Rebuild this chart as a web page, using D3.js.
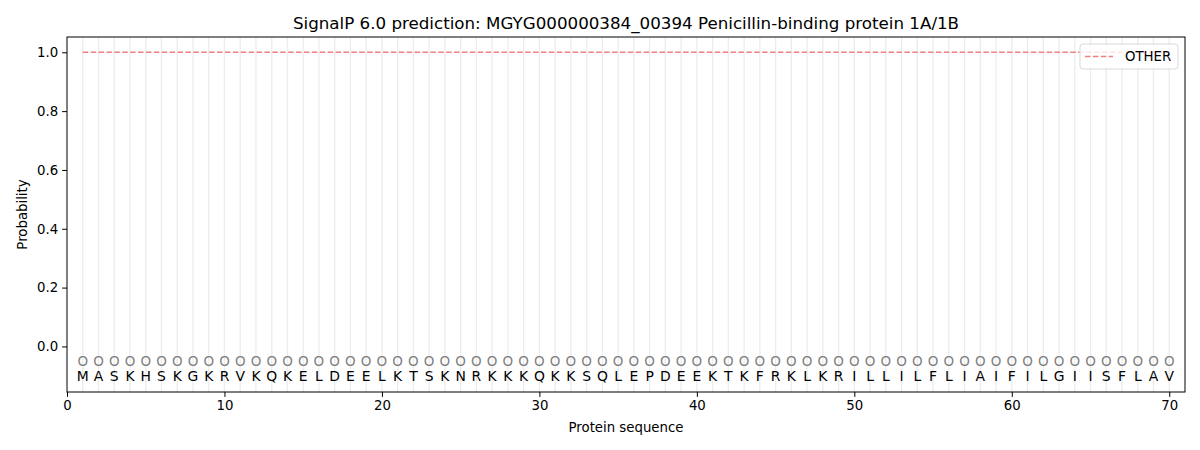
<!DOCTYPE html>
<html><head><meta charset="utf-8">
<script src="https://cdn.jsdelivr.net/npm/d3@7"></script>
<style>body{margin:0;background:#fff;} text{font-family:"DejaVu Sans",sans-serif;}</style>
</head><body>
<svg id="chart" width="1200" height="450"></svg>
<script>
const sequence = "MASKHSKGKRVKQKELDEELKTSKNRKKKQKKSQLEPDEEKTKFRKLKRILLILFLIAIFILGIISFLAV".split("");
const positions = sequence.map((d, i) => i + 1);
const otherProb = positions.map(() => 1.0);
const labelsPred = positions.map(() => "O");
const xTicks = [0, 10, 20, 30, 40, 50, 60, 70];
const yTicks = [0.0, 0.2, 0.4, 0.6, 0.8, 1.0];
const titleText = "SignalP 6.0 prediction: MGYG000000384_00394 Penicillin-binding protein 1A/1B";
const seriesName = "OTHER";

const svg = d3.select("#chart");
const L = 67, R = 1185, T = 37, B = 392;
const x = d3.scaleLinear().domain([0, 71]).range([L, R]);
const y = d3.scaleLinear().domain([-0.155, 1.052]).range([B, T]);

// grid lines
svg.append("g").selectAll("line").data(positions).join("line")
  .attr("x1", d => x(d)).attr("x2", d => x(d))
  .attr("y1", T).attr("y2", B)
  .attr("stroke", "#ebebeb").attr("stroke-width", 1.3).attr("opacity", 0.9);

// line
const line = d3.line().x((d, i) => x(positions[i])).y(d => y(d));
svg.append("path").datum(otherProb).attr("d", line)
  .attr("fill", "none").attr("stroke", "#f08080").attr("stroke-width", 1.5)
  .attr("stroke-dasharray", "5.5,2.4");

// markers
svg.append("g").selectAll("text").data(labelsPred).join("text")
  .attr("x", (d, i) => x(positions[i])).attr("y", y(-0.05))
  .attr("text-anchor", "middle").attr("dominant-baseline", "central")
  .attr("font-size", 13.5).attr("fill", "#808080").text(d => d);

// sequence letters
svg.append("g").selectAll("text").data(sequence).join("text")
  .attr("x", (d, i) => x(positions[i])).attr("y", y(-0.1))
  .attr("text-anchor", "middle").attr("dominant-baseline", "central")
  .attr("font-size", 13.9).attr("fill", "#000").text(d => d);

// axes
const xAxis = d3.axisBottom(x).tickValues(xTicks).tickFormat(d3.format("d")).tickSize(4.9).tickPadding(4);
const gx = svg.append("g").attr("transform", `translate(0,${B})`).call(xAxis);
const yAxis = d3.axisLeft(y).tickValues(yTicks).tickFormat(d3.format(".1f")).tickSize(4.9).tickPadding(4);
const gy = svg.append("g").attr("transform", `translate(${L},0)`).call(yAxis);
[gx, gy].forEach(g => {
  g.select(".domain").remove();
  g.selectAll("text").attr("font-size", 13.3).attr("font-family", "DejaVu Sans").attr("fill", "#000");
  g.selectAll("line").attr("stroke", "#000").attr("stroke-width", 1);
});
svg.append("rect").attr("x", L).attr("y", T).attr("width", R - L).attr("height", B - T)
  .attr("fill", "none").attr("stroke", "#000").attr("stroke-width", 1);

// labels
svg.append("text").attr("x", (L + R) / 2).attr("y", 432).attr("text-anchor", "middle")
  .attr("font-size", 13.3).text("Protein sequence");
svg.append("text").attr("transform", `translate(27,${(T + B) / 2}) rotate(-90)`).attr("text-anchor", "middle")
  .attr("font-size", 13.3).text("Probability");
svg.append("text").attr("x", (L + R) / 2).attr("y", 29).attr("text-anchor", "middle")
  .attr("font-size", 16.7).text(titleText);

// legend
const lg = svg.append("g");
lg.append("rect").attr("x", 1080).attr("y", 44).attr("width", 98).attr("height", 25).attr("rx", 3)
  .attr("fill", "#fff").attr("fill-opacity", 0.8).attr("stroke", "#d9d9d9");
lg.append("line").attr("x1", 1085).attr("x2", 1113).attr("y1", 56.5).attr("y2", 56.5)
  .attr("stroke", "#f08080").attr("stroke-width", 1.5).attr("stroke-dasharray", "5.5,2.4");
lg.append("text").attr("x", 1125).attr("y", 56.5).attr("dominant-baseline", "central")
  .attr("font-size", 13.3).text(seriesName);
</script>
</body></html>
